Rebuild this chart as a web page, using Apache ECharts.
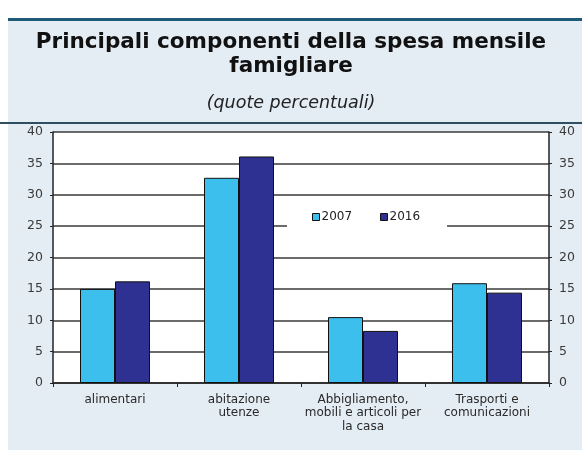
<!DOCTYPE html>
<html>
<head>
<meta charset="utf-8">
<script src="https://cdn.jsdelivr.net/npm/echarts@6/dist/echarts.min.js"></script>
<style>
  html, body { margin: 0; padding: 0; background: #fff; }
  #chart { width: 582px; height: 451px; }
</style>
</head>
<body>
<div id="chart"></div>
<script>
// dati (quote percentuali)
const categories = ['alimentari', 'abitazione\nutenze', 'Abbigliamento,\nmobili e articoli per\nla casa', 'Trasporti e\ncomunicazioni']
const values2007 = [15.0, 32.7, 10.5, 15.9]
const values2016 = [16.2, 36.1, 8.3, 14.4]
const seriesNames = ['2007', '2016']

const colors = {
  light: '#3dbfee',
  dark: '#2e3192',
  panel: '#e4ecf4',
  rule: '#1f5a78',
  grid: '#3a3a3a',
  text: '#3a3a3a'
}

const chart = echarts.init(document.getElementById('chart'))

const yAxisBase = {
  type: 'value',
  min: 0,
  max: 40,
  interval: 5,
  axisLine: { show: true, lineStyle: { color: '#222', width: 1.5 } },
  axisTick: { show: true, length: 3, lineStyle: { color: '#222' } },
  axisLabel: { color: colors.text, fontSize: 12.5, fontFamily: 'DejaVu Sans', margin: 10 },
  splitLine: { show: true, lineStyle: { color: colors.grid, width: 1.5 } }
}

const titleFont = { fontSize: 21.5, fontWeight: 'bold', color: '#111', fontFamily: 'DejaVu Sans' }

chart.setOption({
  backgroundColor: '#fff',
  graphic: [
    { type: 'rect', left: 8, top: 20, shape: { width: 574, height: 430 }, style: { fill: colors.panel }, z: -10 },
    { type: 'rect', left: 8, top: 18, shape: { width: 574, height: 3 }, style: { fill: colors.rule }, z: -9 },
    { type: 'rect', left: 0, top: 122, shape: { width: 582, height: 2 }, style: { fill: '#2f4f60' }, z: -9 },
    { type: 'rect', left: 53, top: 132, shape: { width: 496, height: 251 }, style: { fill: '#fff' }, z: -8 }
  ],
  title: [
    { text: 'Principali componenti della spesa mensile', left: 'center', top: 26, textStyle: titleFont },
    { text: 'famigliare', left: 'center', top: 50, textStyle: titleFont },
    {
      text: '(quote percentuali)',
      left: 'center', top: 89,
      textStyle: { fontSize: 17.5, fontWeight: 'normal', fontStyle: 'italic', color: '#222', fontFamily: 'DejaVu Sans' }
    }
  ],
  legend: {
    data: seriesNames,
    left: 287,
    top: 205,
    padding: [6, 27, 10, 25],
    backgroundColor: '#fff',
    itemWidth: 7,
    itemHeight: 7,
    itemGap: 28,
    icon: 'rect',
    textStyle: { fontSize: 12, color: '#222', fontFamily: 'DejaVu Sans', padding: [0, 0, 0, -3] },
    itemStyle: { borderColor: '#111', borderWidth: 1 }
  },
  grid: { left: 53, right: 33, top: 132, bottom: 68 },
  xAxis: {
    type: 'category',
    data: categories,
    axisLine: { show: true, lineStyle: { color: '#222', width: 1.5 } },
    axisTick: { show: true, length: 4, lineStyle: { color: '#222' } },
    axisLabel: {
      color: '#2a2a2a', fontSize: 12, fontFamily: 'DejaVu Sans',
      lineHeight: 13.5, margin: 10, interval: 0
    },
    splitLine: { show: false }
  },
  yAxis: [
    Object.assign({}, yAxisBase, { position: 'left' }),
    Object.assign({}, yAxisBase, { position: 'right', splitLine: { show: false } })
  ],
  series: [
    {
      name: seriesNames[0],
      type: 'bar',
      data: values2007,
      barWidth: 35,
      barGap: '0%',
      itemStyle: { color: colors.light, borderColor: '#111', borderWidth: 1 }
    },
    {
      name: seriesNames[1],
      type: 'bar',
      data: values2016,
      barWidth: 35,
      itemStyle: { color: colors.dark, borderColor: '#111', borderWidth: 1 }
    }
  ]
})
</script>
</body>
</html>
